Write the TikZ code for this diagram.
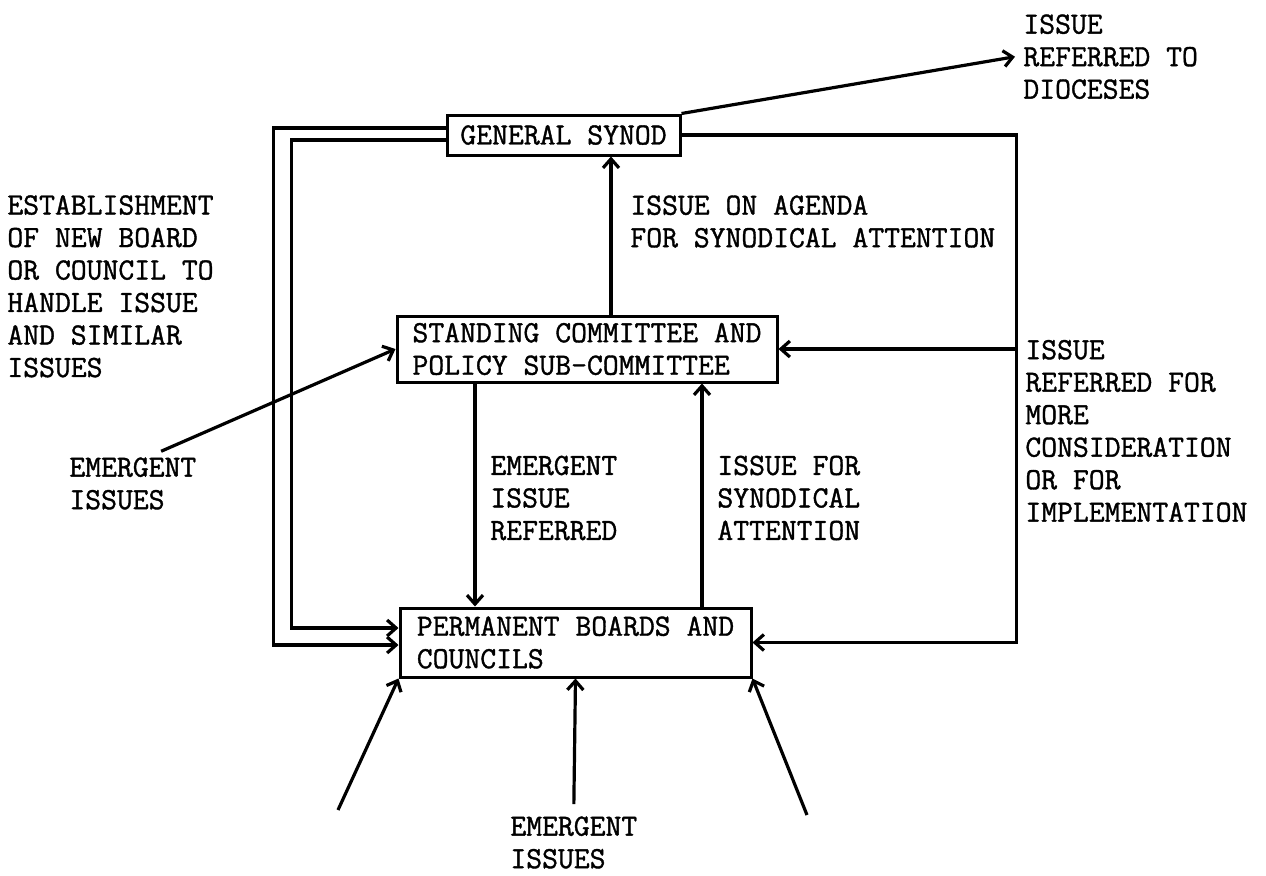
\documentclass[tikz,border=0pt]{standalone}
\usepackage{fontspec}
\setmonofont{Latin Modern Mono}[RawFeature={embolden=1.2}]
\usetikzlibrary{arrows.meta,calc}
\tikzset{bx/.style={draw,line width=1.5pt,align=left,inner xsep=6pt,inner ysep=2pt},
 lbl/.style={align=left,inner sep=0pt,anchor=west},
 wire/.style={line width=1.6pt},
 arr/.style={wire,-{Straight Barb[length=4.5pt,width=8pt,line width=1.6pt]}},
 every node/.style={font=\ttfamily\fontsize{15.4pt}{16.25pt}\selectfont}}

\begin{document}
\begin{tikzpicture}[x=0.5pt,y=-0.5pt]
\useasboundingbox (0,0) rectangle (1266,875);
\node[bx,minimum width=116.5pt,minimum height=20pt] (synod) at (563.5,135) {GENERAL SYNOD};
\node[bx,minimum width=190pt,minimum height=33pt] (standing) at (587,349) {STANDING COMMITTEE AND\\POLICY SUB-COMMITTEE};
\node[bx,minimum width=175.5pt,minimum height=34.5pt] (boards) at (575.5,642.5) {PERMANENT BOARDS AND\\COUNCILS};
\node[lbl] (diocese) at (1023,56.7) {ISSUE\\REFERRED TO\\DIOCESES};
\node[lbl] (agenda) at (630,221.5) {ISSUE ON AGENDA\\FOR SYNODICAL ATTENTION};
\node[lbl] (newboard) at (7,286.3) {ESTABLISHMENT\\OF NEW BOARD\\OR COUNCIL TO\\HANDLE ISSUE\\AND SIMILAR\\ISSUES};
\node[lbl] (emergl) at (69,483.5) {EMERGENT\\ISSUES};
\node[lbl] (referred) at (490,498) {EMERGENT\\ISSUE\\REFERRED};
\node[lbl] (attn) at (717,498) {ISSUE FOR\\SYNODICAL\\ATTENTION};
\node[lbl] (further) at (1025,431) {ISSUE\\REFERRED FOR\\MORE\\CONSIDERATION\\OR FOR\\IMPLEMENTATION};
\node[lbl] (emergb) at (510,842.5) {EMERGENT\\ISSUES};
\coordinate (loop) at ($(boards.east)+(132pt,0)$);
\coordinate (bl) at (338,810);
\coordinate (br) at (807,815);
\draw[arr] ($(standing.north)+(12pt,0)$) coordinate (u1) -- (u1 |- synod.south);
\draw[arr] ($(standing.south)+(-56pt,0)$) coordinate (d1) -- (d1 |- boards.north);
\draw[arr] ($(boards.north)+(63.25pt,0)$) coordinate (u2) -- (u2 |- standing.south);
\draw[arr] ($(synod.west)+(0,3.5pt)$) -| ($(boards.west)+(-62.5pt,-1.25pt)$) -- ($(boards.west)+(0,-1.25pt)$);
\draw[arr] ($(synod.west)+(0,-2.5pt)$) -| ($(boards.west)+(-53.5pt,7.25pt)$) -- ($(boards.west)+(0,7.25pt)$);
\draw[arr] (synod.east) -| (loop) -- (boards.east);
\draw[arr] (loop |- standing.east) -- (standing.east);
\draw[arr] (synod.north east) -- ($(diocese.west)+(-4pt,0)$);
\draw[arr] ($(emergl.north east)+(-17.8pt,2.9pt)$) -- (standing.west);
\draw[arr] ($(emergb.north)+(0,6pt)$) -- (boards.south);
\foreach \u/\v in {bl/south west,br/south east}{\draw[arr] (\u)--(boards.\v);}
\end{tikzpicture}
\end{document}
